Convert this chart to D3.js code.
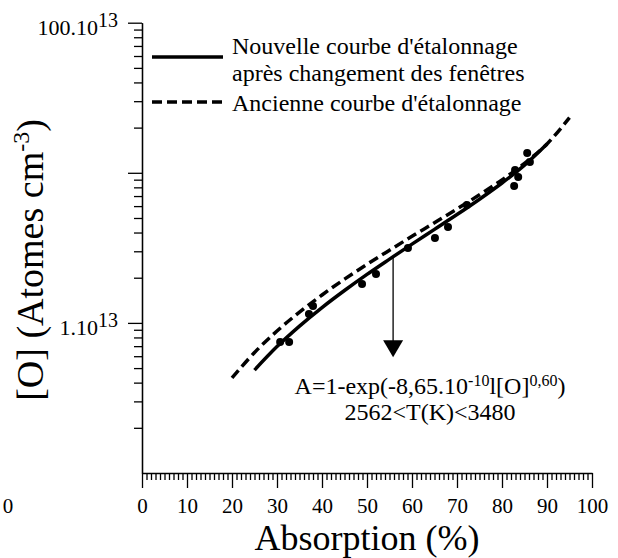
<!DOCTYPE html>
<html><head><meta charset="utf-8">
<script src="https://cdn.jsdelivr.net/npm/d3@7"></script>
<style>body{margin:0;background:#fff;overflow:hidden}svg{display:block}svg text{font-family:"Liberation Serif"}</style>
</head><body><svg id="c" width="618" height="558"></svg>
<script>
// Absorption (%) and [O] in units of 1e13 atoms cm-3
const newA = [25,30,35,40,45,50,55,60,65,70,75,80,85,90];
const newO = [0.485,0.695,0.952,1.265,1.643,2.104,2.66,3.35,4.20,5.27,6.67,8.55,11.25,15.56];
const oldA = [20,25,30,35,40,45,50,55,60,65,70,75,80,85,90,95];
const oldO = [0.430,0.635,0.883,1.18,1.535,1.957,2.455,3.05,3.776,4.65,5.74,7.14,8.97,11.56,15.56,23.3];
const ptA = [30.7,32.7,37.1,38.0,48.9,52.0,59.1,65.1,68.0,72.2,82.7,82.9,83.6,85.6,86.2];
const ptO = [0.746,0.746,1.146,1.296,1.816,2.118,3.155,3.678,4.355,6.10,8.17,10.44,9.37,13.55,11.8];
const xTicks = [0,10,20,30,40,50,60,70,80,90,100];
const yMajor = [1,10,100];
const yLabels = [{v:100,main:"100.10",sup:"13"},{v:1,main:"1.10",sup:"13"}];
const legendItems = [{lines:["Nouvelle courbe d'étalonnage","après changement des fenêtres"],dash:null},{lines:["Ancienne courbe d'étalonnage"],dash:"10,5"}];
const arrowA = 55.8, arrowFrom = 2.76, arrowTo = 0.59;

const FONT = "Liberation Serif";
const svg = d3.select("#c");
const T = (sel)=>sel.append("text").attr("font-family",FONT);
const x = d3.scaleLinear([0,100],[142,592]);
const y = d3.scaleLog([0.1,100],[473,22.7]);

// x axis
const xMinor = d3.range(0,101,1).filter(v=>v%10!==0);
svg.append("g").attr("transform","translate(0,473)")
  .call(d3.axisBottom(x).tickValues(xMinor).tickSize(7).tickSizeOuter(0).tickFormat(""))
  .call(g=>g.select(".domain").remove());
svg.append("g").attr("transform","translate(0,473)")
  .call(d3.axisBottom(x).tickValues(xTicks).tickSize(15).tickSizeOuter(0).tickPadding(10).tickFormat(d3.format("d")))
  .attr("font-family",FONT).attr("font-size",21)
  .call(g=>g.selectAll("text").attr("fill","#000").attr("font-family",FONT).attr("font-size",21));
// y axis
const yMinor = [];
[0.1,1,10].forEach(d=>{for(let k=2;k<=9;k++) yMinor.push(d*k);});
svg.append("g").attr("transform","translate(142,0)")
  .call(d3.axisLeft(y).tickValues(yMinor).tickSize(8).tickSizeOuter(0).tickFormat(""));
svg.append("g").attr("transform","translate(142,0)")
  .call(d3.axisLeft(y).tickValues(yMajor).tickSize(14).tickSizeOuter(0).tickFormat(""));
svg.selectAll(".tick line, .domain").attr("stroke","#000").attr("stroke-width",1.3);

// y labels
yLabels.forEach(l=>{
  const t = T(svg).attr("x",118).attr("y",y(l.v)+12).attr("text-anchor","end").attr("font-size",22);
  t.append("tspan").text(l.main);
  t.append("tspan").attr("dy",-8).attr("font-size",20).text(l.sup);
});
// stray 0
T(svg).attr("x",8).attr("y",473+15+10).attr("dy","0.71em").attr("text-anchor","middle").attr("font-size",21).text("0");

// titles
T(svg).attr("x",367).attr("y",550).attr("text-anchor","middle").attr("font-size",36).text("Absorption (%)");
const yt = T(svg).attr("transform","translate(43,260) rotate(-90)").attr("text-anchor","middle").attr("font-size",38);
yt.append("tspan").text("[O] (Atomes cm");
yt.append("tspan").attr("dy",-14).attr("font-size",24).text("-3");
yt.append("tspan").attr("dy",14).text(")");

// curves
const line = d3.line().x(d=>x(d[0])).y(d=>y(d[1])).curve(d3.curveCatmullRom);
svg.append("path").datum(newA.map((a,i)=>[a,newO[i]])).attr("d",line).attr("fill","none").attr("stroke","#000").attr("stroke-width",3.5);
svg.append("path").datum(oldA.map((a,i)=>[a,oldO[i]])).attr("d",line).attr("fill","none").attr("stroke","#000").attr("stroke-width",3.5).attr("stroke-dasharray","10,5");
// points
svg.append("g").selectAll("circle").data(ptA.map((a,i)=>[a,ptO[i]])).join("circle")
  .attr("cx",d=>x(d[0])).attr("cy",d=>y(d[1])).attr("r",4).attr("fill","#000");

// arrow
const ax = x(arrowA), ay1 = y(arrowFrom), ay2 = y(arrowTo);
svg.append("line").attr("x1",ax).attr("x2",ax).attr("y1",ay1).attr("y2",ay2-16).attr("stroke","#000").attr("stroke-width",1.3);
svg.append("path").attr("d",`M${ax-10},${ay2-17}L${ax+10},${ay2-17}L${ax},${ay2}Z`).attr("fill","#000");

// annotation
const a1 = T(svg).attr("x",430).attr("y",394).attr("text-anchor","middle").attr("font-size",24);
a1.append("tspan").text("A=1-exp(-8,65.10");
a1.append("tspan").attr("dy",-8).attr("font-size",16).text("-10");
a1.append("tspan").attr("dy",8).text("l[O]");
a1.append("tspan").attr("dy",-8).attr("font-size",16).text("0,60");
a1.append("tspan").attr("dy",8).text(")");
T(svg).attr("x",430).attr("y",420).attr("text-anchor","middle").attr("font-size",24).text("2562<T(K)<3480");

// legend
const lg = svg.append("g");
const lineYs = [57,102];
const textYs = [[54,81],[111]];
legendItems.forEach((it,i)=>{
  lg.append("line").attr("x1",152).attr("x2",223).attr("y1",lineYs[i]).attr("y2",lineYs[i]).attr("stroke","#000").attr("stroke-width",3.5).attr("stroke-dasharray",it.dash);
  it.lines.forEach((s,j)=>T(lg).attr("x",232).attr("y",textYs[i][j]).attr("font-size",24).text(s));
});
</script></body></html>
